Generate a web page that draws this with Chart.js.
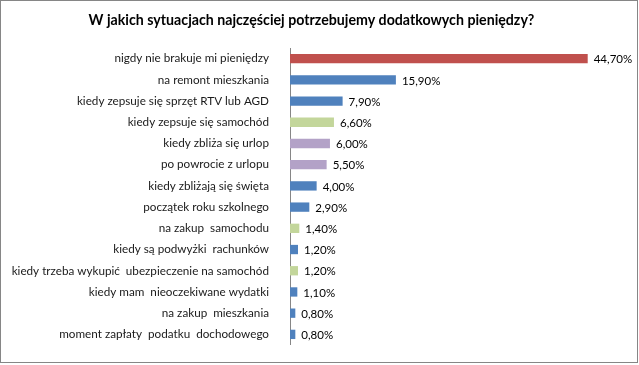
<!DOCTYPE html>
<html>
<head>
<meta charset="utf-8">
<script src="https://cdn.jsdelivr.net/npm/chart.js@4"></script>
<style>
html,body{margin:0;padding:0;background:#fff;}
#wrap{position:relative;width:639px;height:365px;}
</style>
</head>
<body>
<div id="wrap"><canvas id="c" width="639" height="365"></canvas></div>
<script>
const title = "W jakich sytuacjach najczęściej potrzebujemy dodatkowych pieniędzy?";
const categories = [
  "nigdy nie brakuje mi pieniędzy",
  "na remont mieszkania",
  "kiedy zepsuje się sprzęt RTV lub AGD",
  "kiedy zepsuje się samochód",
  "kiedy zbliża się urlop",
  "po powrocie z urlopu",
  "kiedy zbliżają się święta",
  "początek roku szkolnego",
  "na zakup  samochodu",
  "kiedy są podwyżki  rachunków",
  "kiedy trzeba wykupić  ubezpieczenie na samochód",
  "kiedy mam  nieoczekiwane wydatki",
  "na zakup  mieszkania",
  "moment zapłaty  podatku  dochodowego"
];
const values = [44.7, 15.9, 7.9, 6.6, 6.0, 5.5, 4.0, 2.9, 1.4, 1.2, 1.2, 1.1, 0.8, 0.8];
const barColors = ["#C0504D","#4F81BD","#4F81BD","#C3D69B","#B3A2C7","#B3A2C7","#4F81BD","#4F81BD","#C3D69B","#4F81BD","#C3D69B","#4F81BD","#4F81BD","#4F81BD"];

const FONT = "Lato, 'Open Sans', sans-serif";

const frame = {
  id: 'frame',
  beforeDraw(chart) {
    const ctx = chart.ctx;
    ctx.save();
    ctx.fillStyle = '#fff';
    ctx.fillRect(0, 0, chart.width, chart.height);
    ctx.strokeStyle = '#868686';
    ctx.lineWidth = 1;
    ctx.strokeRect(0.5, 0.5, 637, 362);
    ctx.restore();
  }
};

const valueLabels = {
  id: 'valueLabels',
  afterDatasetsDraw(chart) {
    const ctx = chart.ctx;
    const meta = chart.getDatasetMeta(0);
    ctx.save();
    ctx.font = "11.5px " + FONT;
    ctx.fillStyle = '#000';
    ctx.textAlign = 'left';
    ctx.textBaseline = 'middle';
    meta.data.forEach((el, i) => {
      const v = chart.data.datasets[0].data[i];
      const txt = v.toFixed(2).replace('.', ',') + '%';
      ctx.fillText(txt, el.x + 6, el.y + 1);
    });
    ctx.restore();
  }
};

new Chart(document.getElementById('c'), {
  type: 'bar',
  data: {
    labels: categories,
    datasets: [{
      data: values,
      backgroundColor: barColors,
      borderWidth: 0,
      categoryPercentage: 1,
      barPercentage: 0.44
    }]
  },
  options: {
    indexAxis: 'y',
    responsive: false,
    animation: false,
    devicePixelRatio: 1,
    layout: { padding: { left: 0, right: 16, top: 0, bottom: 17 } },
    plugins: {
      legend: { display: false },
      tooltip: { enabled: false },
      title: {
        display: true,
        text: title,
        color: '#000',
        font: { family: FONT, size: 14.2, weight: 'bold' },
        padding: { top: 12, bottom: 19 }
      }
    },
    scales: {
      x: {
        display: false,
        min: 0,
        max: 50
      },
      y: {
        grid: { display: false },
        border: { display: true, color: '#868686', width: 1 },
        ticks: {
          color: '#1a1a1a',
          font: { family: FONT, size: 11.7 },
          padding: 13
        },
        afterFit(scale) { scale.width = 290; }
      }
    }
  },
  plugins: [frame, valueLabels]
});
</script>
</body>
</html>
